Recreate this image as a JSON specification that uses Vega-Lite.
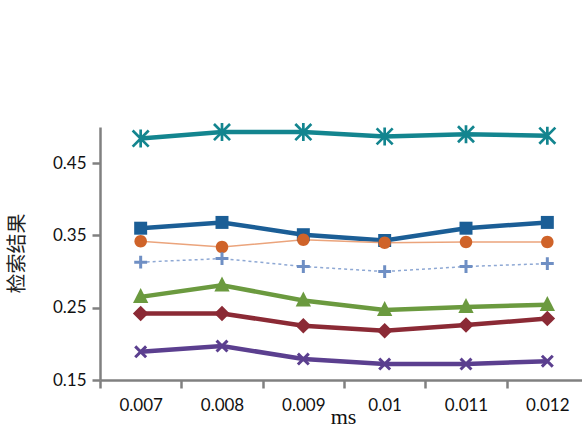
{
  "$schema": "https://vega.github.io/schema/vega-lite/v6.json",
  "autosize": {"type": "none"},
  "width": 482,
  "height": 253,
  "padding": {"left": 100, "top": 127, "right": 0, "bottom": 48},
  "background": "white",
  "config": {
    "view": {"stroke": null},
    "font": "Lato",
    "legend": {"disable": false}
  },
  "data": {"values": [
    {"ms": "0.007", "series": "p@5_Re", "value": 0.360},
    {"ms": "0.008", "series": "p@5_Re", "value": 0.368},
    {"ms": "0.009", "series": "p@5_Re", "value": 0.351},
    {"ms": "0.01", "series": "p@5_Re", "value": 0.343},
    {"ms": "0.011", "series": "p@5_Re", "value": 0.360},
    {"ms": "0.012", "series": "p@5_Re", "value": 0.368},
    {"ms": "0.007", "series": "p@5_Ri", "value": 0.242},
    {"ms": "0.008", "series": "p@5_Ri", "value": 0.242},
    {"ms": "0.009", "series": "p@5_Ri", "value": 0.225},
    {"ms": "0.01", "series": "p@5_Ri", "value": 0.218},
    {"ms": "0.011", "series": "p@5_Ri", "value": 0.226},
    {"ms": "0.012", "series": "p@5_Ri", "value": 0.235},
    {"ms": "0.007", "series": "p@10_Re", "value": 0.265},
    {"ms": "0.008", "series": "p@10_Re", "value": 0.281},
    {"ms": "0.009", "series": "p@10_Re", "value": 0.260},
    {"ms": "0.01", "series": "p@10_Re", "value": 0.247},
    {"ms": "0.011", "series": "p@10_Re", "value": 0.251},
    {"ms": "0.012", "series": "p@10_Re", "value": 0.254},
    {"ms": "0.007", "series": "p@10_Ri", "value": 0.189},
    {"ms": "0.008", "series": "p@10_Ri", "value": 0.197},
    {"ms": "0.009", "series": "p@10_Ri", "value": 0.179},
    {"ms": "0.01", "series": "p@10_Ri", "value": 0.172},
    {"ms": "0.011", "series": "p@10_Ri", "value": 0.172},
    {"ms": "0.012", "series": "p@10_Ri", "value": 0.176},
    {"ms": "0.007", "series": "MAP_Re", "value": 0.484},
    {"ms": "0.008", "series": "MAP_Re", "value": 0.493},
    {"ms": "0.009", "series": "MAP_Re", "value": 0.493},
    {"ms": "0.01", "series": "MAP_Re", "value": 0.487},
    {"ms": "0.011", "series": "MAP_Re", "value": 0.490},
    {"ms": "0.012", "series": "MAP_Re", "value": 0.488},
    {"ms": "0.007", "series": "MAP_Ri", "value": 0.342},
    {"ms": "0.008", "series": "MAP_Ri", "value": 0.334},
    {"ms": "0.009", "series": "MAP_Ri", "value": 0.344},
    {"ms": "0.01", "series": "MAP_Ri", "value": 0.340},
    {"ms": "0.011", "series": "MAP_Ri", "value": 0.341},
    {"ms": "0.012", "series": "MAP_Ri", "value": 0.341},
    {"ms": "0.007", "series": "average", "value": 0.313},
    {"ms": "0.008", "series": "average", "value": 0.318},
    {"ms": "0.009", "series": "average", "value": 0.307},
    {"ms": "0.01", "series": "average", "value": 0.300},
    {"ms": "0.011", "series": "average", "value": 0.307},
    {"ms": "0.012", "series": "average", "value": 0.311}
  ]},
  "encoding": {
    "x": {
      "field": "ms", "type": "ordinal",
      "sort": ["0.007", "0.008", "0.009", "0.01", "0.011", "0.012"],
      "scale": {"type": "band", "paddingInner": 0, "paddingOuter": 0, "range": [0, 488]},
      "axis": {
        "title": "ms", "titleFont": "Liberation Serif", "titleFontSize": 22, "titleFontWeight": "normal",
        "titleColor": "#111", "titleY": 43, "titleBaseline": "alphabetic", "titleX": 243,
        "labelAngle": 0, "labelFontSize": 17, "labelFont": "Lato", "labelColor": "#111", "labelPadding": 9,
        "tickBand": "extent", "tickSize": 8, "tickWidth": 2.5, "tickColor": "#808080",
        "domainColor": "#808080", "domainWidth": 2.5, "grid": false
      }
    },
    "y": {
      "field": "value", "type": "quantitative",
      "scale": {"domain": [0.15, 0.5], "nice": false, "zero": false},
      "axis": {
        "title": "检索结果", "titleFont": "Noto Sans CJK SC", "titleFontSize": 20, "titleFontWeight": "normal",
        "titleColor": "#222", "titleX": -83, "titleY": 126, "titleAngle": -90, "titleAlign": "center", "titleBaseline": "middle",
        "values": [0.15, 0.25, 0.35, 0.45], "format": ".2f",
        "labelFontSize": 17, "labelFont": "Lato", "labelColor": "#111", "labelPadding": 6,
        "tickSize": 8, "tickWidth": 2.5, "tickColor": "#808080",
        "domainColor": "#808080", "domainWidth": 2.5, "grid": false
      }
    }
  },
  "layer": [
    {
      "transform": [{"filter": {"field": "series", "oneOf": ["p@5_Re", "p@5_Ri", "p@10_Re", "p@10_Ri", "MAP_Re"]}}],
      "mark": {"type": "line", "strokeWidth": 4.5},
      "encoding": {
        "stroke": {"field": "series", "type": "nominal",
          "scale": {"domain": ["p@5_Re", "p@5_Ri", "p@10_Re", "p@10_Ri", "MAP_Re", "MAP_Ri", "average"],
                    "range": ["#1b5e96", "#8b2a35", "#6b9a3f", "#5b3f8f", "#13858f", "#eba47c", "#8ea8d4"]},
          "legend": null}
      }
    },
    {
      "transform": [{"filter": {"field": "series", "equal": "MAP_Ri"}}],
      "mark": {"type": "line", "strokeWidth": 1.5},
      "encoding": {
        "stroke": {"field": "series", "type": "nominal", "legend": null}
      }
    },
    {
      "transform": [{"filter": {"field": "series", "equal": "average"}}],
      "mark": {"type": "line", "strokeWidth": 1.5, "strokeDash": [3, 3]},
      "encoding": {
        "stroke": {"field": "series", "type": "nominal", "legend": null}
      }
    },
    {
      "mark": {"type": "point", "filled": true, "size": 150, "opacity": 1},
      "encoding": {
        "color": {"field": "series", "type": "nominal",
          "scale": {"domain": ["p@5_Re", "p@5_Ri", "p@10_Re", "p@10_Ri", "MAP_Re", "MAP_Ri", "average"],
                    "range": ["#1b5e96", "#8b2a35", "#6b9a3f", "#5b3f8f", "#13858f", "#cf6329", "#6f8fc4"]},
          "legend": {
            "title": null, "disable": false, "orient": "none", "legendX": -80, "legendY": -120,
            "direction": "horizontal", "columns": 3, "symbolSize": 150,
            "labelFontSize": 17, "labelFont": "Lato", "labelColor": "#111",
            "columnPadding": 95, "rowPadding": 14
          }},
        "shape": {"field": "series", "type": "nominal",
          "scale": {"domain": ["p@5_Re", "p@5_Ri", "p@10_Re", "p@10_Ri", "MAP_Re", "MAP_Ri", "average"],
                    "range": [
                      "M-1.06,-1.06H1.06V1.06H-1.06Z",
                      "M0,-1.27L1.27,0L0,1.27L-1.27,0Z",
                      "M0,-1.45L1.25,1L-1.25,1Z",
                      "M-0.717,-1.063L1.063,0.717L0.717,1.063L-1.063,-0.717ZM-1.063,0.717L0.717,-1.063L1.063,-0.717L-0.717,1.063Z",
                      "M-1.154,-1.466L1.466,1.154L1.154,1.466L-1.466,-1.154ZM-1.466,1.154L1.154,-1.466L1.466,-1.154L-1.154,1.466ZM0.22,-1.47L0.22,1.47L-0.22,1.47L-0.22,-1.47Z",
                      "M-1.02,0A1.02,1.02,0,1,1,1.02,0A1.02,1.02,0,1,1,-1.02,0Z",
                      "M-1.05,-0.245H1.05V0.245H-1.05ZM0.245,-1.05L0.245,1.05L-0.245,1.05L-0.245,-1.05Z"
                    ]},
          "legend": null
        }
      }
    }
  ]
}
